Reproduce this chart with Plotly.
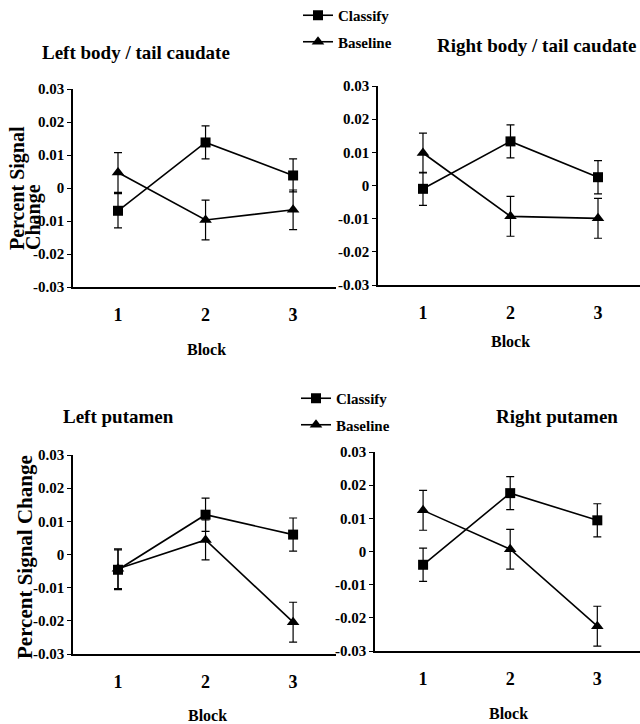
import plotly.graph_objects as go

W, H = 640, 724

blocks = [1, 2, 3]
y_tick_vals = [-0.03, -0.02, -0.01, 0, 0.01, 0.02, 0.03]
y_tick_text = ["-0.03", "-0.02", "-0.01", "0", "0.01", "0.02", "0.03"]
x_tick_text = ["1", "2", "3"]
series_names = ["Classify", "Baseline"]
panel_titles = ["Left body / tail caudate", "Right body / tail caudate",
                "Left putamen", "Right putamen"]

# Left body / tail caudate
lbc_classify = [-0.0069, 0.0138, 0.0038]
lbc_classify_err = [0.0052, 0.005, 0.005]
lbc_baseline = [0.0047, -0.0097, -0.0066]
lbc_baseline_err = [0.006, 0.006, 0.006]
# Right body / tail caudate
rbc_classify = [-0.001, 0.0133, 0.0025]
rbc_classify_err = [0.005, 0.005, 0.005]
rbc_baseline = [0.0098, -0.0093, -0.0099]
rbc_baseline_err = [0.006, 0.006, 0.006]
# Left putamen
lp_classify = [-0.0046, 0.012, 0.006]
lp_classify_err = [0.006, 0.005, 0.005]
lp_baseline = [-0.0043, 0.0044, -0.0204]
lp_baseline_err = [0.006, 0.006, 0.006]
# Right putamen
rp_classify = [-0.004, 0.0176, 0.0094]
rp_classify_err = [0.005, 0.005, 0.005]
rp_baseline = [0.0124, 0.0007, -0.0225]
rp_baseline_err = [0.006, 0.006, 0.006]

panels = [
    (lbc_classify, lbc_classify_err, lbc_baseline, lbc_baseline_err),
    (rbc_classify, rbc_classify_err, rbc_baseline, rbc_baseline_err),
    (lp_classify, lp_classify_err, lp_baseline, lp_baseline_err),
    (rp_classify, rp_classify_err, rp_baseline, rp_baseline_err),
]

FONT = "Liberation Serif, Times New Roman, serif"

def px_x(p):
    return p / W

def px_y(p):
    return 1 - p / H

# (x-left px, x-right px, y-top px, y-bottom px, x-range)
geom = [
    (73, 336, 89, 287, [0.486, 3.49]),
    (378, 640, 86, 285, [0.486, 3.48]),
    (73, 336, 455, 654, [0.486, 3.49]),
    (375, 640, 452, 651, [0.448, 3.49]),
]

fig = go.Figure()
symbols = ["square", "triangle-up"]
sizes = [10, 11]

for i, (vals, geo) in enumerate(zip(panels, geom)):
    ax = "" if i == 0 else str(i + 1)
    legend_name = "legend" if i < 2 else "legend2"
    for k in range(2):
        y = vals[2 * k]
        e = vals[2 * k + 1]
        fig.add_trace(go.Scatter(
            x=blocks, y=y, name=series_names[k],
            mode="lines+markers",
            line=dict(color="black", width=1.6),
            marker=dict(symbol=symbols[k], size=sizes[k], color="black"),
            error_y=dict(type="data", array=e, visible=True,
                         color="black", thickness=1.2, width=4),
            xaxis="x" + ax, yaxis="y" + ax,
            showlegend=(i in (0, 2)),
            legend=legend_name,
            legendgroup=legend_name + series_names[k],
        ))

layout = dict(
    width=W, height=H,
    margin=dict(l=0, r=0, t=0, b=0, autoexpand=False),
    paper_bgcolor="white", plot_bgcolor="white",
    font=dict(family=FONT, color="black"),
    showlegend=True,
)

for i, (xl, xr, yt, yb, xr_range) in enumerate(geom):
    ax = "" if i == 0 else str(i + 1)
    layout["xaxis" + ax] = dict(
        domain=[px_x(xl), min(px_x(xr), 1.0)],
        range=xr_range, anchor="y" + ax,
        tickvals=blocks, ticktext=x_tick_text,
        showline=True, linecolor="black", linewidth=2,
        showgrid=False, zeroline=False, ticks="",
        ticklabelstandoff=10,
        tickfont=dict(family=FONT, size=18, color="black", weight="bold"),
    )
    layout["yaxis" + ax] = dict(
        domain=[px_y(yb), px_y(yt)],
        range=[-0.03, 0.03], anchor="x" + ax,
        tickvals=y_tick_vals, ticktext=y_tick_text,
        showline=True, linecolor="black", linewidth=1.5,
        showgrid=False, zeroline=False,
        ticks="outside", ticklen=4, tickwidth=1.2, tickcolor="black",
        tickfont=dict(family=FONT, size=15, color="black", weight="bold"),
    )

legend_common = dict(
    xanchor="left", yanchor="top", bgcolor="rgba(0,0,0,0)",
    font=dict(family=FONT, size=15, color="black", weight="bold"),
    itemwidth=30, tracegroupgap=4, traceorder="grouped",
)
layout["legend"] = dict(x=px_x(298), y=px_y(-1), **legend_common)
layout["legend2"] = dict(x=px_x(296), y=px_y(382), **legend_common)

fig.update_layout(**layout)

ann = []
def add_text(txt, x, y, size, bold=True, angle=0):
    ann.append(dict(
        text=txt, x=px_x(x), y=px_y(y), xref="paper", yref="paper",
        xanchor="center", yanchor="middle", showarrow=False, textangle=angle,
        font=dict(family=FONT, size=size, color="black",
                  weight="bold" if bold else "normal"),
    ))

# panel titles
add_text(panel_titles[0], 136, 52, 19)
add_text(panel_titles[1], 537, 45, 19)
add_text(panel_titles[2], 118, 417, 19)
add_text(panel_titles[3], 557, 417, 19)

# y-axis titles
add_text("Percent Signal", 17, 188, 20, angle=-90)
add_text("Change", 33, 217, 20, angle=-90)
add_text("Percent Signal Change", 25, 557, 21, angle=-90)

# x-axis titles
add_text("Block", 206, 349, 16)
add_text("Block", 510, 342, 16)
add_text("Block", 207, 715, 16)
add_text("Block", 508, 713, 16)

fig.update_layout(annotations=ann)

fig.write_html("out.html")
